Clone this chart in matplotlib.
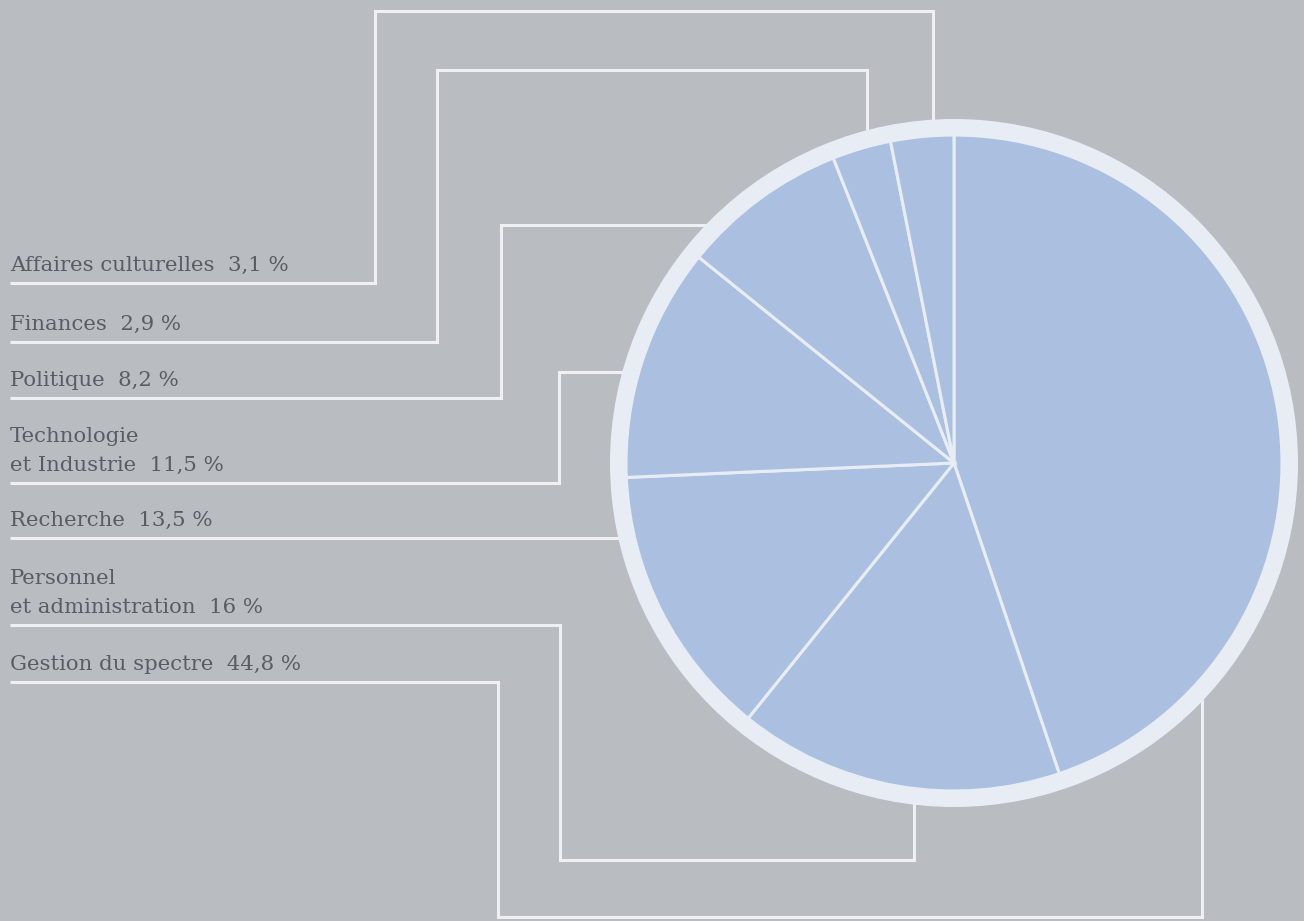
import numpy as np
import matplotlib.pyplot as plt
from matplotlib.patches import Circle

# data: slices in clockwise order from the top
labels = ['Gestion du spectre', 'Personnel\net administration', 'Recherche',
          'Technologie\net Industrie', 'Politique', 'Finances', 'Affaires culturelles']
shares = [44.8, 16, 13.5, 11.5, 8.2, 2.9, 3.1]

BG = '#b9bcc1'
PIE = '#abc0e1'
RING = '#e8edf5'
LINE = '#eef0f4'
TXT = '#595c62'

W, H = 1304, 921
cx, cy, R, ring_w = 954, 463, 344, 16

# layout of the label rows (top to bottom) and of their leader lines
under_y = [283, 342, 398, 483, 538, 625, 682]
routes = [
    [(375, 283), (375, 11), (933, 11), (933, None)],
    [(437, 342), (437, 70), (867, 70), (867, None)],
    [(501, 398), (501, 225), (None, 225)],
    [(559, 483), (559, 372), (None, 372)],
    [(None, 538)],
    [(560, 625), (560, 860), (914, 860), (914, None)],
    [(498, 682), (498, 917), (1202, 917), (1202, None)],
]


def to_ring(prev, x=None, y=None):
    if y is None:
        h = np.sqrt(R**2 - (x - cx)**2)
        return (x, cy - h + 4 if prev[1] < cy else cy + h - 4)
    h = np.sqrt(R**2 - (y - cy)**2)
    return (cx - h + 4 if prev[0] < cx else cx + h - 4, y)


fig = plt.figure(figsize=(W / 100, H / 100), dpi=100, facecolor=BG)
ax = fig.add_axes([0, 0, 1, 1])
ax.set_facecolor(BG)

ax.add_patch(Circle((cx, cy), R, fc=RING, ec='none', zorder=2))
wedges, _ = ax.pie(shares, radius=R - ring_w, center=(cx, cy), startangle=270,
                   counterclock=True, colors=[PIE] * len(shares), frame=True,
                   wedgeprops=dict(ec=RING, lw=2.2, zorder=3))

rows = list(zip(labels, shares))[::-1]
for (name, val), uy, route in zip(rows, under_y, routes):
    pts = [(10, uy)]
    for x, y in route:
        if x is None or y is None:
            pts.append(to_ring(pts[-1], x, y))
        else:
            pts.append((x, y))
    xs, ys = zip(*pts)
    ax.plot(xs, ys, color=LINE, lw=2.2, solid_joinstyle='miter',
            solid_capstyle='butt', zorder=1)

    lines = name.split('\n')
    lines[-1] += '  ' + str(val).replace('.', ',') + ' %'
    for i, t in enumerate(reversed(lines)):
        ax.text(10, uy - 12 - i * 29, t, family='DejaVu Serif', fontsize=15.3,
                color=TXT, va='baseline', ha='left')

ax.set_xlim(0, W)
ax.set_ylim(H, 0)
ax.set_aspect('equal')
ax.axis('off')

fig.savefig('out.png', dpi=100, facecolor=BG)
